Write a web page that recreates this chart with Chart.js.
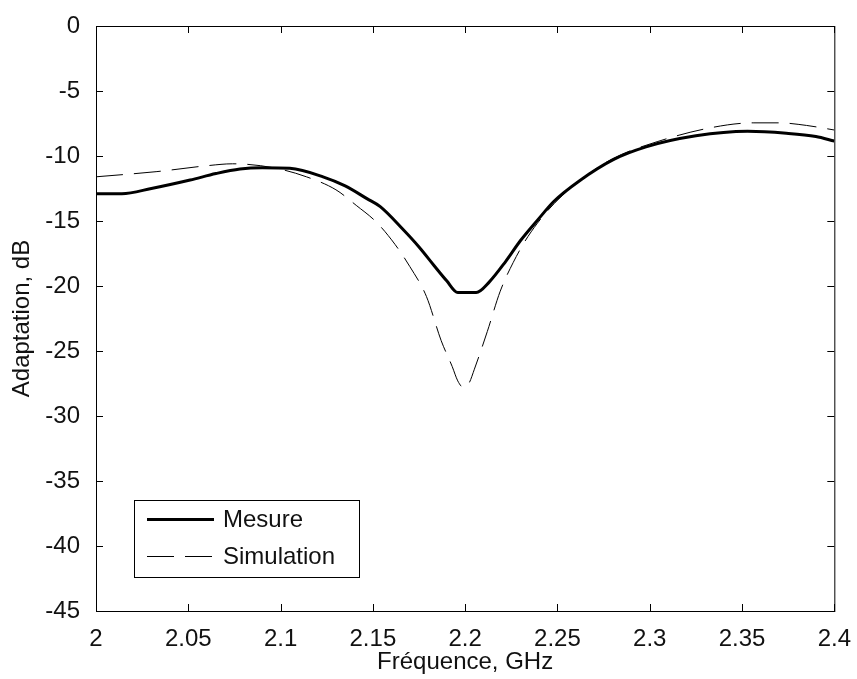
<!DOCTYPE html>
<html>
<head>
<meta charset="utf-8">
<script src="https://cdn.jsdelivr.net/npm/chart.js@4.4.1/dist/chart.umd.min.js"></script>
<style>
    html, body { margin: 0; padding: 0; background: #fff; }
    canvas { display: block; }
</style>
</head>
<body>
<canvas id="graf" width="857" height="679"></canvas>
<script>

// ======================================
// DONNÉES
// ======================================

const freqMesure = [2.000, 2.014, 2.030, 2.051, 2.065, 2.078, 2.090, 2.105, 2.123, 2.135,
                    2.147, 2.154, 2.166, 2.175, 2.183, 2.190, 2.196, 2.206, 2.213, 2.222,
                    2.230, 2.240, 2.248, 2.262, 2.280, 2.298, 2.325, 2.353, 2.374, 2.390, 2.400];
const valMesure  = [-12.9, -12.9, -12.5, -11.85, -11.35, -11.0, -10.9, -10.95, -11.6, -12.3,
                    -13.3, -13.9, -15.6, -17.0, -18.4, -19.6, -20.5, -20.5, -19.7, -18.1,
                    -16.5, -14.8, -13.5, -11.9, -10.3, -9.3, -8.45, -8.1, -8.25, -8.5, -8.85];

const freqSimu = [2.000, 2.033, 2.060, 2.074, 2.096, 2.114, 2.130, 2.141, 2.152, 2.162,
                  2.170, 2.179, 2.187, 2.193, 2.196, 2.199, 2.202, 2.205, 2.212, 2.219,
                  2.226, 2.234, 2.246, 2.262, 2.280, 2.304, 2.334, 2.356, 2.370, 2.385, 2.400];
const valSimu  = [-11.6, -11.2, -10.75, -10.6, -10.9, -11.6, -12.6, -13.8, -15.1, -16.8,
                  -18.5, -20.8, -24.2, -26.2, -27.3, -27.8, -27.5, -26.4, -23.5, -20.4,
                  -18.2, -16.2, -14.0, -11.9, -10.2, -8.9, -7.8, -7.45, -7.45, -7.65, -8.0];

const xTicks = [2, 2.05, 2.1, 2.15, 2.2, 2.25, 2.3, 2.35, 2.4];
const yTicks = [0, -5, -10, -15, -20, -25, -30, -35, -40, -45];

const serieLabels = ["Mesure", "Simulation"];
const axisTitles = ["Fréquence, GHz", "Adaptation, dB"];

const police = '"Liberation Sans", Arial, sans-serif';


// ======================================
// CADRE + GRADUATIONS INTÉRIEURES
// ======================================

const cadre = {
    id: "cadre",
    afterDraw(chart) {
        const { ctx, chartArea: a, scales } = chart;
        const len = 7;
        ctx.save();
        ctx.strokeStyle = "#000";
        ctx.lineWidth = 1;
        ctx.strokeRect(a.left + 0.5, a.top + 0.5, a.right - a.left, a.bottom - a.top);
        ctx.beginPath();
        scales.x.ticks.forEach(t => {
            const px = Math.round(scales.x.getPixelForValue(t.value)) + 0.5;
            ctx.moveTo(px, a.bottom); ctx.lineTo(px, a.bottom - len);
            ctx.moveTo(px, a.top); ctx.lineTo(px, a.top + len);
        });
        scales.y.ticks.forEach(t => {
            const py = Math.round(scales.y.getPixelForValue(t.value)) + 0.5;
            ctx.moveTo(a.left, py); ctx.lineTo(a.left + len, py);
            ctx.moveTo(a.right, py); ctx.lineTo(a.right - len, py);
        });
        ctx.stroke();
        ctx.restore();
    }
};


// ======================================
// LÉGENDE (dans le graphique)
// ======================================

const legende = {
    id: "legende",
    afterDraw(chart) {
        const { ctx, chartArea: a } = chart;
        const x0 = a.left + 38, y0 = a.bottom - 111, w = 225, h = 77;
        ctx.save();
        ctx.fillStyle = "#fff";
        ctx.fillRect(x0, y0, w, h);
        ctx.strokeStyle = "#000";
        ctx.lineWidth = 1;
        ctx.strokeRect(x0 + 0.5, y0 + 0.5, w, h);
        chart.data.datasets.forEach((ds, i) => {
            const yy = y0 + 19.5 + i * 37;
            ctx.beginPath();
            ctx.setLineDash(ds.borderDash || []);
            ctx.lineWidth = ds.borderWidth;
            ctx.strokeStyle = ds.borderColor;
            ctx.moveTo(x0 + 13, yy);
            ctx.lineTo(x0 + 80, yy);
            ctx.stroke();
            ctx.setLineDash([]);
            ctx.fillStyle = "#111";
            ctx.font = "24px " + police;
            ctx.textBaseline = "middle";
            ctx.fillText(ds.label, x0 + 89, yy + 1);
        });
        ctx.restore();
    }
};


// ======================================
// GRAPHIQUE
// ======================================

new Chart(document.getElementById("graf"), {

    type: "line",

    data: {
        datasets: [{
            label: serieLabels[0],
            data: freqMesure.map((f, i) => ({ x: f, y: valMesure[i] })),
            borderColor: "#000",
            borderWidth: 3,
            pointRadius: 0,
            cubicInterpolationMode: "monotone",
            fill: false
        }, {
            label: serieLabels[1],
            data: freqSimu.map((f, i) => ({ x: f, y: valSimu[i] })),
            borderColor: "#000",
            borderWidth: 1,
            borderDash: [27, 11],
            pointRadius: 0,
            cubicInterpolationMode: "monotone",
            fill: false
        }]
    },

    options: {
        responsive: false,
        devicePixelRatio: 1,
        animation: false,
        layout: { padding: { left: 0, top: 26, right: 22, bottom: 0 } },
        plugins: {
            legend: { display: false },
            tooltip: { enabled: false }
        },
        scales: {
            x: {
                type: "linear",
                min: 2,
                max: 2.4,
                afterBuildTicks: s => { s.ticks = xTicks.map(v => ({ value: v })); },
                afterFit: s => { s.height = 68; },
                grid: { display: false },
                border: { display: false },
                ticks: {
                    color: "#111",
                    font: { family: police, size: 24 },
                    padding: 6,
                    maxRotation: 0,
                    autoSkip: false,
                    callback: v => String(v)
                },
                title: {
                    display: true,
                    text: axisTitles[0],
                    color: "#111",
                    font: { family: police, size: 24 },
                    padding: { top: 0, bottom: 2 }
                }
            },
            y: {
                type: "linear",
                min: -45,
                max: 0,
                afterBuildTicks: s => { s.ticks = yTicks.map(v => ({ value: v })); },
                afterFit: s => { s.width = 96; },
                grid: { display: false },
                border: { display: false },
                ticks: {
                    color: "#111",
                    font: { family: police, size: 24 },
                    padding: 8,
                    autoSkip: false,
                    callback: v => String(v)
                },
                title: {
                    display: true,
                    text: axisTitles[1],
                    color: "#111",
                    font: { family: police, size: 24 },
                    padding: { top: 8, bottom: 0 }
                }
            }
        }
    },

    plugins: [cadre, legende]

});

</script>
</body>
</html>
